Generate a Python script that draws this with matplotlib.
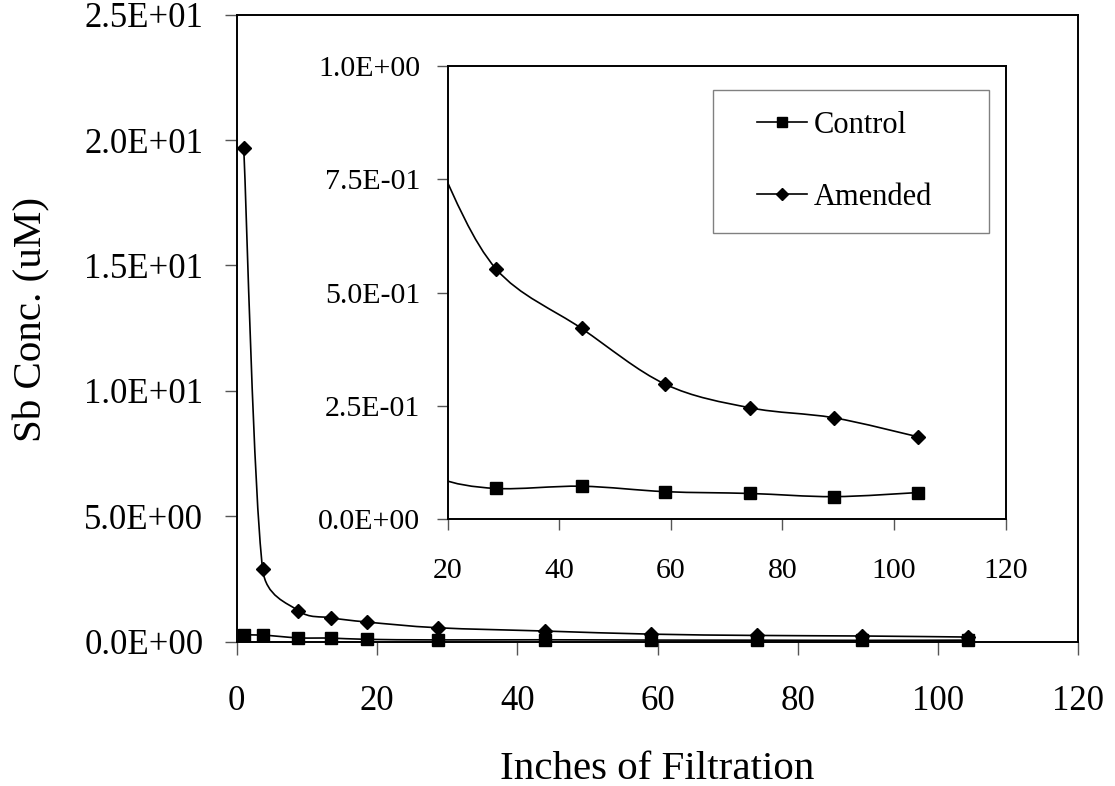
import matplotlib
matplotlib.use('Agg')
import matplotlib.pyplot as plt
from matplotlib.path import Path
from matplotlib.patches import PathPatch, Rectangle
from matplotlib.lines import Line2D
from matplotlib.ticker import FuncFormatter
import numpy as np

plt.rcParams['font.family'] = ['Liberation Serif', 'DejaVu Serif']

# ---- data ----
inches = [1.0, 3.7, 8.8, 13.5, 18.6, 28.7, 44.0, 59.0, 74.2, 89.2, 104.3]
control = [0.26, 0.26, 0.15, 0.14, 0.09, 0.068, 0.073, 0.061, 0.057, 0.050, 0.059]
amended = [19.7, 2.88, 1.23, 0.95, 0.78, 0.552, 0.421, 0.298, 0.246, 0.224, 0.182]
series_labels = ['Control', 'Amended']
main_xticks = [0, 20, 40, 60, 80, 100, 120]
main_yticks = [0, 5, 10, 15, 20, 25]
inset_xticks = [20, 40, 60, 80, 100, 120]
inset_yticks = [0, 0.25, 0.5, 0.75, 1.0]


def bezier_path(ax, xs, ys):
    """Excel-like smoothed line: cubic Bezier through the data points."""
    pts = ax.transData.transform(np.column_stack([xs, ys]))
    n = len(pts)
    verts = [pts[0]]
    codes = [Path.MOVETO]
    for i in range(n - 1):
        p0 = pts[i - 1] if i > 0 else pts[i]
        p1 = pts[i]
        p2 = pts[i + 1]
        p3 = pts[i + 2] if i + 2 < n else pts[i + 1]
        d12 = np.hypot(*(p2 - p1))
        d02 = np.hypot(*(p2 - p0))
        d13 = np.hypot(*(p3 - p1))
        f = g = 1 / 6
        if d02 * f > d12 / 2:
            f = d12 / (2 * d02)
        if d13 * g > d12 / 2:
            g = d12 / (2 * d13)
        c1 = p1 + f * (p2 - p0)
        c2 = p2 - g * (p3 - p1)
        verts += [c1, c2, p2]
        codes += [Path.CURVE4] * 3
    verts = ax.transData.inverted().transform(np.array(verts))
    return Path(verts, codes)


def sci(v, pos):
    return f"{v:.1E}"


fig = plt.figure(figsize=(11.15, 7.86), dpi=100)

# ---- main axes ----
ax = fig.add_axes([0.2123, 0.1837, 0.7548, 0.7977])
ax.set_xlim(0, 120)
ax.set_ylim(0, 25)
ax.set_xticks(main_xticks)
ax.set_yticks(main_yticks)
ax.yaxis.set_major_formatter(FuncFormatter(sci))
for s in ax.spines.values():
    s.set_linewidth(1.4)
    s.set_color('black')
ax.tick_params(direction='out', length=9, width=1, color='#555555', labelsize=25)
ax.tick_params(axis='y', pad=15)
ax.tick_params(axis='x', pad=22)

for ys, mk, ms in [(control, 's', 8.5), (amended, 'D', 7.4)]:
    ax.add_patch(PathPatch(bezier_path(ax, inches, ys), fill=False,
                           edgecolor='black', lw=1.2, clip_on=False, zorder=3))
    ax.plot(inches, ys, linestyle='none', marker=mk, ms=ms, color='black',
            clip_on=False, zorder=4)

ax.set_xlabel('Inches of Filtration', fontsize=29.5)
ax.xaxis.set_label_coords(0.5, -0.1745)
ax.set_ylabel('Sb Conc. (uM)', fontsize=29.5)
ax.yaxis.set_label_coords(-0.2211, 0.513)

# ---- inset axes ----
ax2 = fig.add_axes([0.4015, 0.3393, 0.5004, 0.5767])
ax2.set_facecolor('white')
ax2.set_xlim(20, 120)
ax2.set_ylim(0, 1.0)
ax2.set_xticks(inset_xticks)
ax2.set_yticks(inset_yticks)
ax2.yaxis.set_major_formatter(FuncFormatter(sci))
for s in ax2.spines.values():
    s.set_linewidth(1.4)
    s.set_color('black')
ax2.tick_params(direction='out', length=7.7, width=1, color='#555555', labelsize=21.5)
ax2.tick_params(axis='y', pad=12)
ax2.tick_params(axis='x', pad=20)

for ys, mk, ms in [(control, 's', 8.8), (amended, 'D', 7.4)]:
    ax2.add_patch(PathPatch(bezier_path(ax2, inches, ys), fill=False,
                            edgecolor='black', lw=1.2, zorder=3))
    ax2.plot(inches, ys, linestyle='none', marker=mk, ms=ms, color='black', zorder=4)

handles = [Line2D([], [], color='black', lw=1.2, marker='s', ms=7.2),
           Line2D([], [], color='black', lw=1.2, marker='D', ms=6.0)]
ax2.legend(handles=handles, labels=series_labels, loc='center left',
           bbox_to_anchor=(0.554, 0.790), frameon=False, fontsize=22,
           handlelength=1.64, handletextpad=0.23, borderpad=0,
           borderaxespad=0, labelspacing=1.4)
ax2.add_patch(Rectangle((0.4755, 0.632), 0.4945, 0.315, transform=ax2.transAxes,
                        fill=False, edgecolor='#808080', lw=1.0, zorder=5))

fig.savefig('out.png', dpi=100)
